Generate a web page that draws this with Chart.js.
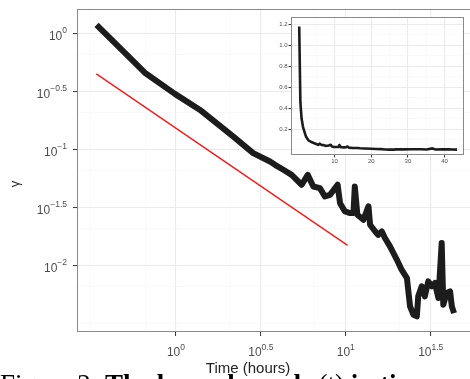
<!DOCTYPE html>
<html><head><meta charset="utf-8">
<script src="https://cdn.jsdelivr.net/npm/chart.js@4"></script>
<style>
html,body{margin:0;padding:0;background:#fff;overflow:hidden;width:470px;height:379px;}
#wrap{position:relative;width:470px;height:379px;overflow:hidden;background:#fff;}
#main{position:absolute;left:0;top:0;}
#inset{position:absolute;left:270px;top:0;}
#caption{position:absolute;left:0;top:371px;font-family:'Liberation Serif','Times New Roman',serif;font-size:27px;line-height:27px;white-space:nowrap;color:#000;}
</style></head>
<body><div id="wrap">
<canvas id="main" width="500" height="379"></canvas>
<canvas id="inset" width="200" height="170"></canvas>
<div id="caption">Figure 2: <b>The lower bound </b><i>γ</i>(t)<b> in time</b></div>
</div>
<script>
// ---- data ----
const timeHours = [0.341,0.656,0.986,1.38,2.17,2.85,3.58,3.83,4.29,4.80,5.50,5.97,6.44,7.05,7.53,8.07,8.37,8.95,9.25,9.89,10.6,11.1,11.3,11.7,12.7,13.6,13.9,14.9,15.5,16.3,17.0,18.2,20.0,21.3,22.9,23.9,25.0,26.2,26.7,28.0,29.2,30.6,32.1,33.5,35.1,36.7,37.5,39.3,41.1,42.1,43.4];
const gammaValues = [1.18,0.457,0.300,0.219,0.129,0.0925,0.0782,0.0733,0.0664,0.0600,0.0493,0.0600,0.0476,0.0461,0.0391,0.0404,0.0432,0.0493,0.0342,0.0290,0.0281,0.0282,0.0476,0.0272,0.0246,0.0321,0.0223,0.0195,0.0182,0.0195,0.0171,0.0145,0.0111,0.00912,0.00773,0.00440,0.00373,0.00361,0.00537,0.00655,0.00537,0.00723,0.00655,0.00700,0.00520,0.0155,0.00455,0.00574,0.00593,0.00440,0.00385];
const refTime = [0.34, 10.25];
const refGamma = [0.447, 0.0148];
const xTickExps = ['0','0.5','1','1.5'];
const yTickExps = ['0','-0.5','-1','-1.5','-2'];
const xMinorExps = [-0.5,-0.182,0.318,0.818,1.318,1.818];
const yMinorExps = [-0.184,-0.684,-1.184,-1.684,-2.184,-2.5];
const insetXTicks = [10,20,30,40];
const insetXMinor = [5,15,25,35];
const insetYTicks = [0.2,0.4,0.6,0.8,1.0,1.2];
const insetYMinor = [0,0.1,0.3,0.5,0.7,0.9,1.1];

const mainData = timeHours.map((t,i)=>({x:t,y:gammaValues[i]}));
const refData = refTime.map((t,i)=>({x:t,y:refGamma[i]}));

const FONT = "'Liberation Sans', Arial, Helvetica, sans-serif";
const LABEL = '#4d4d4d';
const MAJ = '#ebebeb', MIN = '#f5f5f5';

function gridOpts(tl){
  return {
    color: c => (c.tick && c.tick.maj) ? MAJ : MIN,
    lineWidth: c => (c.tick && c.tick.maj) ? 1.1 : 0.6,
    tickColor: c => (c.tick && c.tick.maj) ? '#333333' : 'rgba(0,0,0,0)',
    tickLength: tl, tickWidth: 1, drawTicks: true
  };
}

function sup(ctx, x, y, base, exp, align){
  ctx.font = '12px ' + FONT;
  const wb = ctx.measureText(base).width;
  ctx.font = '8.5px ' + FONT;
  const we = ctx.measureText(exp).width;
  const total = wb + we;
  let x0 = align === 'right' ? x - total : x - total/2;
  ctx.fillStyle = LABEL;
  ctx.textAlign = 'left';
  ctx.textBaseline = 'alphabetic';
  ctx.font = '12px ' + FONT;
  ctx.fillText(base, x0, y);
  ctx.font = '8.5px ' + FONT;
  ctx.fillText(exp, x0 + wb, y - 6.5);
}

const mainPlugin = {
  id:'mainDecor',
  afterDraw(chart){
    const {ctx, chartArea:a, scales} = chart;
    ctx.save();
    ctx.strokeStyle = '#8a8a8a'; ctx.lineWidth = 1;
    ctx.strokeRect(a.left+0.5, a.top+0.5, a.right-a.left-1, a.bottom-a.top-1);
    yTickExps.forEach(e=>{
      const py = scales.y.getPixelForValue(Math.pow(10, parseFloat(e)));
      sup(ctx, 67, py + 6.5, '10', e.replace('-','\u2212'), 'right');
    });
    xTickExps.forEach(e=>{
      const px = scales.x.getPixelForValue(Math.pow(10, parseFloat(e)));
      sup(ctx, px, 356, '10', e, 'center');
    });
    ctx.fillStyle = '#222';
    ctx.font = '15px ' + FONT;
    ctx.textAlign = 'center'; ctx.textBaseline = 'alphabetic';
    ctx.fillText('Time (hours)', 248, 373);
    ctx.translate(15, 184);
    ctx.rotate(-Math.PI/2);
    ctx.font = '13px ' + FONT;
    ctx.textBaseline = 'middle';
    ctx.fillText('\u03B3', 0, 0);
    ctx.restore();
  }
};

new Chart(document.getElementById('main'), {
  type:'line',
  data:{datasets:[
    {data: refData, borderColor:'#ee2020', borderWidth:1.5, pointRadius:0, tension:0},
    {data: mainData, borderColor:'#1c1c1c', borderWidth:6, pointRadius:0, tension:0, borderJoinStyle:'round'}
  ]},
  options:{
    responsive:false, animation:false, devicePixelRatio:1,
    layout:{padding:{top:9,right:10,left:0,bottom:0}},
    plugins:{legend:{display:false}, tooltip:{enabled:false}},
    scales:{
      x:{type:'logarithmic', position:'bottom', min:Math.pow(10,-0.5824), max:Math.pow(10,1.849),
        ticks:{display:false}, grid:gridOpts(4), border:{display:false},
        afterBuildTicks:s=>{ s.ticks = xTickExps.map(e=>({value:Math.pow(10,parseFloat(e)), maj:true}))
          .concat(xMinorExps.map(e=>({value:Math.pow(10,e), maj:false}))).sort((a,b)=>a.value-b.value); },
        afterFit:s=>{ s.height = 47; }
      },
      y:{type:'logarithmic', position:'left', min:Math.pow(10,-2.5776), max:Math.pow(10,0.2095),
        ticks:{display:false}, grid:gridOpts(4), border:{display:false},
        afterBuildTicks:s=>{ s.ticks = yTickExps.map(e=>({value:Math.pow(10,parseFloat(e)), maj:true}))
          .concat(yMinorExps.map(e=>({value:Math.pow(10,e), maj:false}))).sort((a,b)=>a.value-b.value); },
        afterFit:s=>{ s.width = 77; }
      }
    }
  },
  plugins:[mainPlugin]
});

const insetPlugin = {
  id:'insetDecor',
  beforeDraw(chart){
    const {ctx, chartArea:a} = chart;
    ctx.save(); ctx.fillStyle = '#fff';
    ctx.fillRect(a.left, a.top, a.right-a.left, a.bottom-a.top);
    ctx.restore();
  },
  afterDraw(chart){
    const {ctx, chartArea:a} = chart;
    ctx.save(); ctx.strokeStyle = '#8a8a8a'; ctx.lineWidth = 1;
    ctx.strokeRect(a.left+0.5, a.top+0.5, a.right-a.left-1, a.bottom-a.top-1);
    ctx.restore();
  }
};

new Chart(document.getElementById('inset'), {
  type:'line',
  data:{datasets:[
    {data: mainData, borderColor:'#1c1c1c', borderWidth:2.6, pointRadius:0, tension:0, borderJoinStyle:'round'}
  ]},
  options:{
    responsive:false, animation:false, devicePixelRatio:1,
    layout:{padding:{top:17,right:6,left:0,bottom:0}},
    plugins:{legend:{display:false}, tooltip:{enabled:false}},
    scales:{
      x:{type:'linear', min:-1.9, max:45.3,
        ticks:{autoSkip:false, maxRotation:0, padding:0, color:LABEL, font:{size:6, family:FONT},
          callback:v=> insetXTicks.includes(v) ? String(v) : ''},
        grid:gridOpts(2.5), border:{display:false},
        afterBuildTicks:s=>{ s.ticks = insetXTicks.map(v=>({value:v,maj:true}))
          .concat(insetXMinor.map(v=>({value:v,maj:false}))).sort((a,b)=>a.value-b.value); },
        afterFit:s=>{ s.height = 15; }
      },
      y:{type:'linear', min:-0.048, max:1.271,
        ticks:{autoSkip:false, padding:1, color:LABEL, font:{size:6, family:FONT},
          callback:v=> insetYTicks.some(t=>Math.abs(t-v)<1e-9) ? v.toFixed(1) : ''},
        grid:gridOpts(2.5), border:{display:false},
        afterBuildTicks:s=>{ s.ticks = insetYTicks.map(v=>({value:v,maj:true}))
          .concat(insetYMinor.map(v=>({value:v,maj:false}))).sort((a,b)=>a.value-b.value); },
        afterFit:s=>{ s.width = 21; }
      }
    }
  },
  plugins:[insetPlugin]
});
</script>
</body></html>
